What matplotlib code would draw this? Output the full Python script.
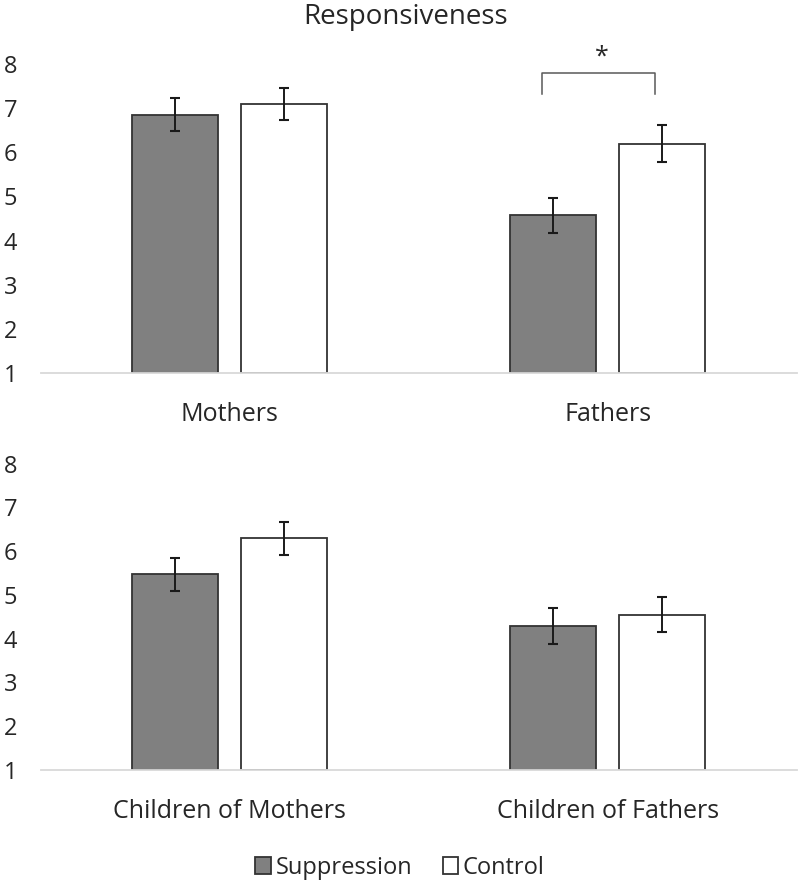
import matplotlib.pyplot as plt
import numpy as np

plt.rcParams["font.family"] = ["Open Sans", "DejaVu Sans"]

SERIES = ["Suppression", "Control"]
TOP_GROUPS = ["Mothers", "Fathers"]
TOP_MEANS = {"Suppression": [6.85, 4.57], "Control": [7.09, 6.19]}
TOP_SE = {"Suppression": [0.38, 0.40], "Control": [0.37, 0.42]}

BOTTOM_GROUPS = ["Children of Mothers", "Children of Fathers"]
BOTTOM_MEANS = {"Suppression": [5.47, 4.28], "Control": [6.29, 4.55]}
BOTTOM_SE = {"Suppression": [0.38, 0.41], "Control": [0.38, 0.40]}

Y_TICKS = [1, 2, 3, 4, 5, 6, 7, 8]

# significance bracket on Fathers (x in category units, y in scale units)
BRACKET_X = [0.825, 1.125]
BRACKET_Y_TOP = 7.79
BRACKET_Y_LOW = 7.33
STAR_Y = 8.15

COLORS = {"Suppression": "#808080", "Control": "#ffffff"}
EDGE = "#333333"
TEXT = "#262626"

W = 0.228
OFFSET = 0.144


def draw_panel(ax, groups, means, ses):
    x = np.arange(len(groups))
    for i, name in enumerate(SERIES):
        pos = x + (-OFFSET if i == 0 else OFFSET)
        ax.bar(pos, np.array(means[name]) - 1, bottom=1, width=W,
               color=COLORS[name], edgecolor=EDGE, linewidth=1.3,
               label=name, zorder=2)
        ax.errorbar(pos, means[name], yerr=ses[name], fmt="none",
                    ecolor="#1a1a1a", elinewidth=1.4, capsize=3.8,
                    capthick=1.5, zorder=3)
    ax.set_xlim(-0.5, len(groups) - 0.5)
    ax.set_ylim(1, 8)
    ax.set_yticks(Y_TICKS)
    ax.set_xticks(x)
    ax.set_xticklabels(groups)
    for s in ["top", "right", "left"]:
        ax.spines[s].set_visible(False)
    ax.spines["bottom"].set_color("#d9d9d9")
    ax.spines["bottom"].set_linewidth(1.3)
    ax.tick_params(axis="both", length=0, colors=TEXT)
    ax.tick_params(axis="y", pad=17, labelsize=17)
    ax.tick_params(axis="x", pad=21, labelsize=18)


fig = plt.figure(figsize=(8, 8.83), dpi=100)
ax1 = fig.add_axes([0.051, 0.5776, 0.945, 0.350])
ax2 = fig.add_axes([0.051, 0.1280, 0.945, 0.347])

draw_panel(ax1, TOP_GROUPS, TOP_MEANS, TOP_SE)
draw_panel(ax2, BOTTOM_GROUPS, BOTTOM_MEANS, BOTTOM_SE)

ax1.plot([BRACKET_X[0], BRACKET_X[0], BRACKET_X[1], BRACKET_X[1]],
         [BRACKET_Y_LOW, BRACKET_Y_TOP, BRACKET_Y_TOP, BRACKET_Y_LOW],
         color="#595959", linewidth=1.1, clip_on=False)
ax1.text(sum(BRACKET_X) / 2 + 0.01, STAR_Y, "*", ha="center", va="center",
         fontsize=18, color=TEXT, clip_on=False)

fig.text(0.507, 0.981, "Responsiveness", ha="center", va="center",
         fontsize=20, color=TEXT)

handles, labels = ax1.get_legend_handles_labels()
fig.legend(handles, labels, loc="center", bbox_to_anchor=(0.5, 0.017),
           ncol=2, frameon=False, fontsize=17, handlelength=0.65,
           handleheight=0.75, handletextpad=0.2, columnspacing=1.3,
           labelcolor=TEXT)

fig.savefig("out.png", dpi=100)
